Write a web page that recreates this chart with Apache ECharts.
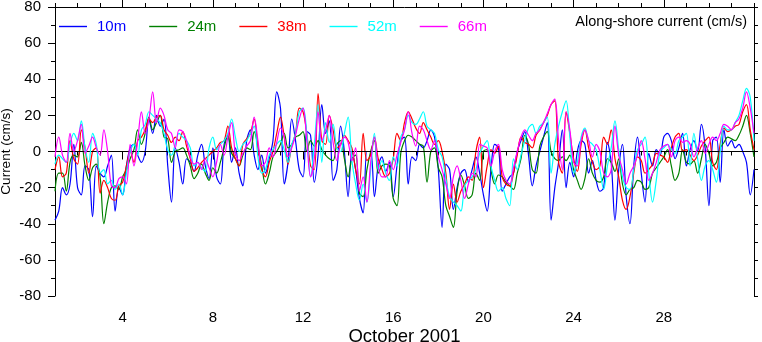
<!DOCTYPE html>
<html>
<head>
<meta charset="utf-8">
<script src="https://cdn.jsdelivr.net/npm/echarts@6/dist/echarts.min.js"></script>
<style>
html,body{margin:0;padding:0;background:#fff;}
#c{width:762px;height:342px;}
</style>
</head>
<body>
<div id="c"></div>
<script>
// Sample spacing: 4 hours (6 samples per day), starting 1 Oct 2001 00:00
const samplesPerDay = 6;
const seriesNames = ['10m', '24m', '38m', '52m', '66m'];
const seriesColors = ['#0000ff', '#008000', '#ff0000', '#00ffff', '#ff00ff'];
const dayTicks = Array.from({length: 32}, (_, i) => String(i + 1));
const labelledDays = ['4', '8', '12', '16', '20', '24', '28'];

const blue10 = [
-38,-33,-20,-24,-18,4,
-20,-24,-8,-10,-36,-8,
-12,-14,-8,-2,-33,-20,
-24,-8,2,4,-2,-6,
0,18,10,20,14,18,
-8,-28,2,-6,-18,-4,
-6,-11,-2,4,-8,-15,
2,-14,-18,4,9,-6,
2,-12,-19,6,12,-2,
-10,-2,-12,-4,6,33,
24,-18,-6,18,6,-10,
-14,11,9,-17,-2,26,
10,17,-16,-10,14,0,
-25,0,-10,-26,-34,0,
0,-25,-8,-3,-11,-6,
-25,-8,6,8,-18,-3,
-5,4,2,6,12,8,
-10,-42,-7,-10,-32,-20,
-12,-10,-17,-10,-3,-12,
-24,-33,-10,4,2,-22,
-18,-14,-12,0,6,11,
-2,-19,-8,0,8,16,
-38,-20,-6,12,-20,-6,
-14,0,6,4,-12,-5,
-16,-22,-20,5,-6,-38,
-10,4,-25,-40,-8,8,
-12,-28,-1,-8,1,-2,
8,10,6,-4,2,10,
-8,1,6,0,15,2,
-30,6,8,-17,12,3,
6,2,4,0,-6,-24,
-10
];

const green24 = [
-22,-12,-12,-22,-6,-2,
-3,5,-8,-16,-9,-7,
-14,-40,-28,-20,-19,-21,
-14,-10,-4,1,12,4,
10,19,12,16,20,8,
7,-6,0,1,2,-2,
-8,-15,-12,-7,-12,-16,
-9,-12,-6,2,9,-1,
-4,-8,-2,2,1,11,
3,-8,-18,-12,-3,0,
4,10,2,4,8,9,
11,0,6,3,6,1,
-2,-4,-5,4,6,-4,
-14,-4,-2,-23,-25,-10,
0,6,-12,-8,-7,-8,
-26,-30,-1,6,9,8,
6,4,3,-17,0,2,
-9,-14,-30,-36,-42,-22,
-13,-19,-26,-24,-12,-16,
0,1,-10,-18,-13,-14,
-17,-19,-21,-12,-4,9,
4,-10,-12,3,8,11,
0,-4,-5,-3,-5,-2,
-10,-16,-21,-15,-4,-12,
-16,-17,-14,-4,-6,-11,
-4,-18,-24,-21,-20,-16,
-17,-21,-20,-12,-9,-6,
-3,1,-8,-16,-12,1,
-6,-7,-5,-12,-4,4,
-1,-8,-6,2,5,8,
7,6,9,14,20,10,
-3
];

const red38 = [
-10,-3,-14,-12,6,-4,
-7,12,2,-12,0,2,
-23,-16,-20,-26,-27,-19,
-17,-8,0,-6,6,8,
12,18,16,19,20,12,
9,5,8,6,11,3,
-4,-11,-9,-6,-4,-2,
0,2,5,6,14,2,
-4,-8,4,7,10,18,
2,-10,-14,-6,0,10,
19,8,-7,3,10,24,
22,10,-8,-10,32,6,
4,20,12,2,4,9,
6,2,-10,-18,10,-5,
-2,8,-4,-10,-14,-12,
-4,10,6,16,22,18,
13,10,16,12,8,4,
6,0,-12,-32,-18,-28,
-22,-18,-14,-16,0,8,
-20,-8,1,-1,3,-14,
-18,-19,-12,-2,8,5,
4,2,9,12,16,20,
26,28,-6,-12,22,10,
-4,-11,4,12,2,-6,
-10,-8,8,4,12,-4,
-14,-27,-32,-25,-12,-3,
-5,-12,-10,-7,-1,-2,
-3,-6,2,8,10,0,
1,-2,-5,-2,3,6,
8,-6,-10,4,13,11,
12,14,15,22,26,12,
1
];

const cyan52 = [
-7,-2,-4,-6,4,10,
6,17,2,-6,10,4,
-12,-10,-18,-16,-21,-18,
-24,-12,0,4,-2,12,
15,22,20,18,16,10,
1,-2,4,10,8,6,
2,-8,-6,-9,-11,2,
8,1,4,6,10,18,
8,0,4,6,10,14,
-3,-12,-10,-2,1,4,
6,1,-6,4,10,22,
24,10,-14,4,26,-6,
16,5,15,2,0,10,
19,-5,-18,-27,-18,-28,
-10,10,-10,-5,-12,-16,
-3,-8,8,12,20,16,
15,18,22,14,12,10,
1,-3,-15,-25,-28,-30,
-33,-19,-16,-14,-10,-1,
3,6,-8,-16,-22,-20,
-26,-30,-4,-10,-2,6,
13,15,10,14,16,19,
-12,4,14,22,28,8,
-12,-6,8,13,6,4,
1,-10,-21,-8,2,17,
1,-14,-20,-21,-10,1,
4,8,-12,-28,-16,0,
2,4,1,-1,6,8,
10,-8,10,-4,-16,-8,
-5,-10,-17,0,14,12,
12,16,20,28,35,30,
6
];

const magenta66 = [
-3,8,-2,-6,10,0,
6,15,-1,3,8,2,
-2,12,0,-19,-20,-15,
-14,-18,4,-8,6,22,
10,18,33,16,24,20,
12,10,2,12,11,6,
-3,-7,-6,-10,-4,-9,
-14,-6,4,-2,8,16,
-1,-5,-1,3,6,19,
6,-8,-6,2,-3,5,
13,8,-3,2,9,18,
24,6,-14,-4,22,6,
12,20,5,-5,4,8,
5,-5,2,-22,-14,-28,
-6,8,-8,-14,-14,-5,
-10,-2,5,12,22,10,
3,14,12,6,1,6,
-3,-10,-18,-26,-14,-8,
-16,-26,-18,-12,-14,4,
3,2,-8,0,4,-10,
-16,-18,-9,0,8,12,
9,6,10,12,16,21,
26,29,6,-10,22,12,
-6,-8,6,12,6,-3,
4,0,-12,-14,-10,14,
-2,-10,-18,-12,-8,-2,
6,-4,-16,-12,-6,1,
3,4,-3,6,8,5,
6,4,-3,2,6,-1,
4,8,6,10,15,14,
12,16,18,24,33,24,
10
];

const allValues = [blue10, green24, red38, cyan52, magenta66];
const FONT = '"Liberation Sans", Arial, Helvetica, sans-serif';

const chart = echarts.init(document.getElementById('c'), null, {renderer: 'canvas'});

const isMajor = (i, v) => labelledDays.indexOf(String(v)) >= 0;

const series = allValues.map((vals, s) => {
  const o = {
    name: seriesNames[s],
    type: 'line',
    xAxisIndex: 0,
    yAxisIndex: 0,
    symbol: 'none',
    showSymbol: false,
    smooth: 0.35,
    lineStyle: {color: seriesColors[s], width: 1.2},
    itemStyle: {color: seriesColors[s]},
    data: vals.map((v, i) => [1 + i / samplesPerDay, v]),
    z: 2 + s
  };
  if (s === allValues.length - 1) {
    o.markLine = {
      silent: true, symbol: 'none', label: {show: false},
      lineStyle: {color: '#000', width: 1, type: 'solid'},
      data: [{yAxis: 0}]
    };
  }
  return o;
});

const option = {
  animation: false,
  backgroundColor: '#fff',
  textStyle: {fontFamily: FONT, color: '#000'},
  grid: {left: 55, right: 8, top: 7, bottom: 46, containLabel: false, outerBoundsMode: 'none'},
  legend: {
    left: 54, top: 14, icon: 'rect', itemWidth: 28, itemHeight: 1.4, itemGap: 23,
    textStyle: {fontSize: 15, fontFamily: FONT, padding: [0, 0, 0, 5]},
    data: seriesNames.map((n, i) => ({name: n, textStyle: {color: seriesColors[i]}}))
  },
  graphic: [{
    type: 'text', right: 15, top: 14,
    style: {text: 'Along-shore current (cm/s)', font: '14.5px ' + FONT, fill: '#000'}
  }],
  xAxis: [
    {
      type: 'value', min: 1, max: 32, interval: 1, position: 'bottom',
      axisLine: {show: true, lineStyle: {color: '#000', width: 1}},
      axisTick: {show: true, length: 4, lineStyle: {color: '#000'}},
      axisLabel: {show: false}, splitLine: {show: false}
    },
    {
      type: 'category', data: dayTicks, boundaryGap: false, position: 'bottom',
      axisLine: {show: false},
      axisTick: {show: true, length: 8, interval: isMajor, lineStyle: {color: '#000'}},
      axisLabel: {show: true, interval: isMajor, fontSize: 15, color: '#000', margin: 14, fontFamily: FONT},
      splitLine: {show: false},
      name: 'October 2001', nameLocation: 'middle', nameGap: 31, nameMoveOverlap: false,
      nameTextStyle: {fontSize: 18.5, color: '#000', fontFamily: FONT}
    },
    {
      type: 'value', min: 1, max: 32, interval: 1, position: 'top',
      axisLine: {show: true, lineStyle: {color: '#000', width: 1}},
      axisTick: {show: true, length: 4, lineStyle: {color: '#000'}},
      axisLabel: {show: false}, splitLine: {show: false}
    },
    {
      type: 'category', data: dayTicks, boundaryGap: false, position: 'top',
      axisLine: {show: false},
      axisTick: {show: true, length: 8, interval: isMajor, lineStyle: {color: '#000'}},
      axisLabel: {show: false}, splitLine: {show: false}
    }
  ],
  yAxis: [
    {
      type: 'value', min: -80, max: 80, interval: 20, position: 'left',
      axisLine: {show: true, lineStyle: {color: '#000', width: 1}},
      axisTick: {show: true, length: 7, lineStyle: {color: '#000'}},
      minorTick: {show: true, splitNumber: 2, length: 4, lineStyle: {color: '#000'}},
      axisLabel: {fontSize: 15, color: '#000', margin: 14, fontFamily: FONT},
      splitLine: {show: false}, minorSplitLine: {show: false},
      name: 'Current (cm/s)', nameLocation: 'middle', nameGap: 42, nameMoveOverlap: false,
      nameTextStyle: {fontSize: 13.5, color: '#000', fontFamily: FONT}
    },
    {
      type: 'value', min: -80, max: 80, interval: 10, position: 'right',
      axisLine: {show: true, lineStyle: {color: '#000', width: 1}},
      axisTick: {show: true, length: 4, lineStyle: {color: '#000'}},
      axisLabel: {show: false}, splitLine: {show: false}
    }
  ],
  series: series
};

chart.setOption(option);
</script>
</body>
</html>
